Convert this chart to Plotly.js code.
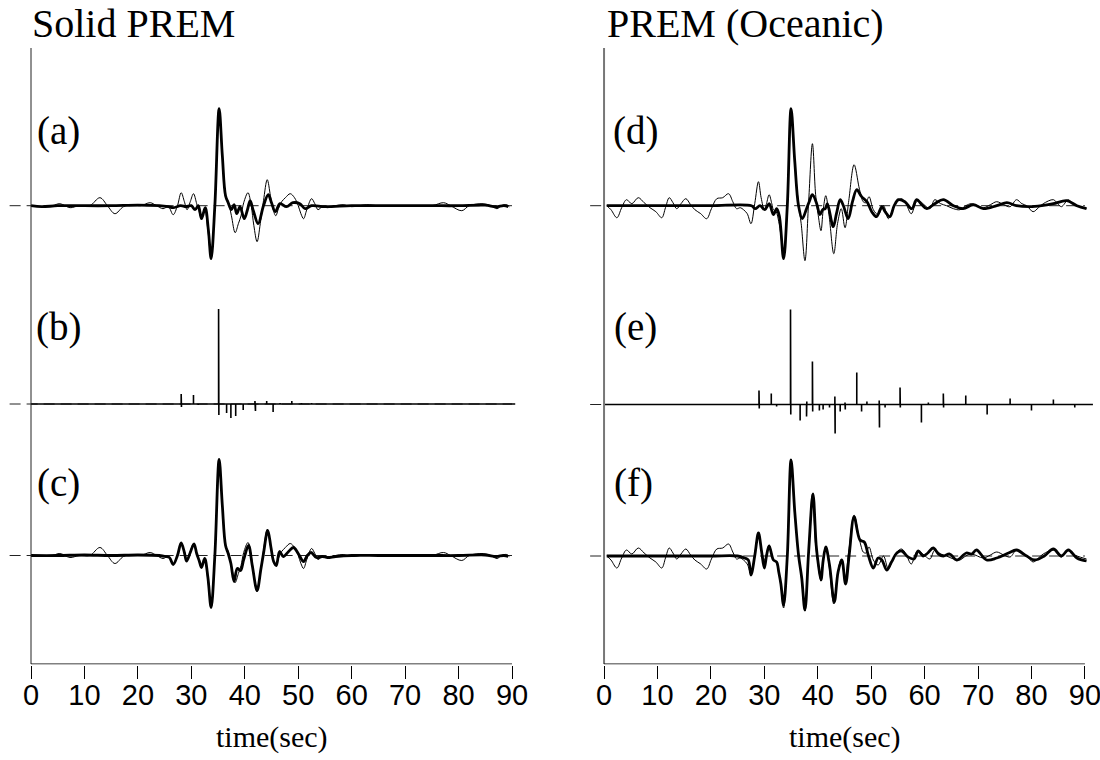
<!DOCTYPE html>
<html>
<head>
<meta charset="utf-8">
<script src="https://cdn.plot.ly/plotly-3.0.1.min.js"></script>
<style>html,body{margin:0;padding:0;background:#fff}#chart{width:1100px;height:760px}</style>
</head>
<body>
<div id="chart"></div>
<script>
// ---------------- DATA (time in sec, amplitude in arbitrary units) ----------------
const tickVals = [0,10,20,30,40,50,60,70,80,90];
const tickText = ["0","10","20","30","40","50","60","70","80","90"];
const panelTitles = ["Solid PREM", "PREM (Oceanic)"];
const panelLabels = ["(a)","(b)","(c)","(d)","(e)","(f)"];
const axisTitle = "time(sec)";

// Observed seismogram, Solid PREM (thin line in a and c)
const obsL_t = [0,2,4,5.4,7.3,9,11,12.9,14.3,15.7,17.3,19.1,20.5,22.3,23.5,24.7,25.7,26.6,27.4,28.1,28.7,29.2,29.8,30.4,31.0,31.4,31.9,32.5,33.1,33.7,34.4,35.2,35.8,36.4,36.9,37.5,38.2,38.8,39.3,39.8,40.6,41.2,41.7,42.3,42.9,43.5,44.2,44.8,45.3,45.8,46.3,46.9,47.6,48.5,49.3,50.0,50.5,51.0,51.6,52.5,53.1,53.7,54.5,55.5,57,58.4,60,62.8,65,70,75,77.2,78.5,80.6,82,84.6,86,87.2,88,89,89.5];
const obsL_a = [0,-1,0,2,-2,0,0,8,0,-8,-1,1,0,3,0,-3,-1,-9,0,13,4,-4,4,12,2,-5,-12,-3,-25,-52,0,96,50,10,4,-10,-27,-18,-10,3,13,0,-20,-36,-18,5,26,10,-4,-10,-3,4,8,12,8,0,-8,-13,-4,7,2,-4,-1,-2,0,1,-1,1,0,0,0,3,0,-5,0,2,0,-3,0,1,-1];
// Synthetic before inversion (thick line in a)
const synA_t = [0,2,5,10,15,20,24,25.7,26.6,28,29,30,30.7,31.3,31.9,32.6,33.2,33.7,34.4,35.2,35.8,36.4,36.9,37.5,38.0,38.5,39.1,39.9,40.5,41.0,41.6,42.5,43.5,44.4,45.0,45.7,46.6,47.8,49.0,50.3,51.3,52.5,55,60,65,70,75,80,85,87,88.5,89.3];
const synA_a = [0,-1,0,0,0,0.5,0,-1,-2,0,-1,0,-4,0,-13,-2,-25,-53,0,97,50,10,3,-4,1,-8,-1,-13,-4,5,-5,-18,0,11,3,-6,2,-1,3,2,-3,0,-1,0,0,0,0,0,0.5,-1,0,-1];
// Spike train, Solid PREM (b)
const spkB_t = [28.1,28.15,30.4,31.3,35.1,35.15,36.6,37.4,38.3,39.7,41.9,42.0,44.1,45.3,46.6,48.8,50.6,52.5];
const spkB_a = [10,-3,9,-1,95,-11,-9,-14,-12,-6,3,-7,3,-8,1,3,1,1];
const spkB_end = 90.6;
// Synthetic after inversion (thick line in c)
const synC_t = [0,5,10,15,20,24,25.2,25.9,26.6,27.4,28.1,28.7,29.1,29.8,30.5,31.0,31.5,31.9,32.5,33.1,33.7,34.4,35.2,35.8,36.4,36.9,37.4,38.0,38.6,39.2,39.8,40.7,41.4,42.3,43.0,43.5,44.3,44.9,45.4,45.9,46.5,47.2,48.2,49.1,50.0,51.0,51.7,52.4,53.4,54.5,55.5,57,60,65,70,75,80,85,87,88.5,89.3];
const synC_a = [0,0,0.5,0,0.5,0,-1,-2,-9,0,12.7,3,-5.7,3,11.7,2,-5.7,-12,-3,-22,-52,0,96,50,10,2,-8,-26,-13,-15,-4,10,-10,-35,-14,2,25,8,-6,-10,4,-1,4,8,2,-6,0,3,-2,-1,-2,-1,0,0,0,0,0,0.5,-1,0,-1];

// Observed seismogram, PREM Oceanic (thin line in d and f)
const obsR_t = [0.5,1.3,2.4,3.3,4.2,5.2,6.4,7.5,8.6,9.7,10.8,11.5,12.2,12.9,13.6,14.4,15.3,16.2,17.0,18.1,19.2,20.1,21.1,22.2,23.3,24.1,24.8,25.5,26.1,26.8,27.5,28.2,28.9,29.4,30.0,30.4,30.9,31.4,31.7,32.2,32.7,33.1,33.6,34.3,35.0,35.7,36.4,36.9,37.6,38.3,39.0,39.6,40.1,40.6,41.0,41.5,42.1,43.0,43.7,44.4,45.1,45.8,46.8,47.7,48.1,48.5,49.0,49.6,50.4,51.3,52.3,53.2,54.0,54.8,55.7,56.5,57.5,58.5,59.2,60.1,61.0,61.9,63.0,64.1,65.4,66.6,67.7,68.8,71.0,72.3,73.5,74.8,76.0,77.2,78.2,79.1,80.3,81.3,82.2,84.1,84.9,85.6,86.9,87.7,88.5,90.3];
const obsR_a = [0,-4,-12,-2,6,2,8,3,-2,-6,-12,-2,8,3,-3,2,7,1,-4,-8,-13,-3,7,8,12,4,-3,-2,-4,-8,-18,2,24,8,-4,2,11,2,-4,-6,-16,-30,-52,0,97,44,1,-18,-55,5,62,11,-10,-25,-5,10,-9,-48,-18,-3,-22,5,41,19,10,4,3,9,-4,-9,0,-13,-4,4,7,2,-8,4,4,0,-3,6,2,0,-3,-4,0,2,-2,1,4,1,-1,6,2,0,-6,-2,2,6,2,-1,6,2,0,-3];
// Synthetic before inversion (thick line in d)
const synD_t = [0.5,10,20,27.6,28.3,29.2,30.1,30.9,31.7,32.3,32.8,33.6,34.3,35.0,35.7,36.4,37.1,37.9,38.4,39.0,39.8,40.4,40.9,41.4,41.8,42.9,43.5,44.2,44.8,45.7,46.5,47.3,48.2,49.2,50.1,51.0,52.0,52.6,53.5,54.3,55.1,56.3,57.6,58.5,59.5,60.4,61.9,63.5,65.4,67.2,69.1,71.0,73.5,75.4,77.2,79.7,81.9,84.1,86.6,88.5,90.3];
const synD_a = [0,0,0,0,-3,0,-4,2,-9,-3,-10,-53,0,97,44,0,-13,-3,4,11,2,-9,-4,-3,2,-21,-8,6,0,-13,4,16,9,4,-6,-11,-1,-6,-11,0,6,4,-3,6,1,-3,2,6,0,-3,1,-3,0,3,0,-1,0,2,5,0,-3];
// Spike train, PREM Oceanic (e)
const spkE_t = [29.0,29.05,31.3,32.3,34.9,34.95,36.7,37.9,37.95,39.0,39.05,40.3,41.0,42.2,43.2,43.25,44.2,45.1,45.15,47.3,48.2,49.2,51.5,51.55,52.6,55.4,55.45,59.4,60.7,63.5,63.55,67.7,71.7,76.0,80.0,84.1,88.1];
const spkE_a = [14,-4,11,-2,95,-10,-16,-12,3,43,-7,-6,-5,-3,8,-29,-7,2,-5,32,-7,3,4,-23,-3,17,-3,-18,2,11,-3,9,-10,6,-6,5,-3];
const spkE_end = 91.5;
// Synthetic after inversion (thick line in f)
const synF_t = [0.5,10,20,25,26.3,27.0,27.5,28.2,28.9,29.5,30.0,30.4,30.9,31.7,32.3,32.7,33.1,33.6,34.3,35.0,35.7,36.4,37.0,37.6,38.3,39.1,39.7,40.1,40.6,41.0,41.5,42.2,43.1,43.8,44.5,45.2,45.9,46.8,47.9,48.7,49.5,50.4,51.3,52.0,52.9,53.8,54.8,55.7,56.9,58.0,58.8,59.7,60.6,61.6,62.6,63.5,64.7,66.0,67.8,68.8,69.7,71.6,73.5,75.7,77.2,79.1,80.6,82.4,84.1,85.6,86.9,88.5,90.3];
const synF_a = [0,0,0,0,-2,-4,-19,0,23,4,-12,0,10,-4,-6,-16,-28,-49,0,96,44,1,-22,-54,5,62,11,-8,-24,-5,9,-9,-46,-16,-4,-28,2,39,16,14,0,-12,-2,-4,-14,-6,3,5,-1,-3,5,0,3,8,2,0,2,-4,3,2,6,-4,-2,3,6,0,-4,0,7,0,6,-2,-5];

// ---------------- LAYOUT CONSTANTS ----------------
const base = {a:458.3, b:260, c:108.5, d:458.3, e:259.5, f:108};
const THIN = 1.0, THICK = 2.8;

function offset(arr, b){ return arr.map(v => v + b); }
function spikes(ts, as, end, b){
  const x=[0], y=[b];
  for(let i=0;i<ts.length;i++){ x.push(ts[i],ts[i],ts[i]); y.push(b, b+as[i], b); }
  x.push(end); y.push(b);
  return {x, y};
}
function line(x, y, xa, ya, w, shape, dash, color){
  return {type:'scatter', mode:'lines', x:x, y:y, xaxis:xa, yaxis:ya, hoverinfo:'skip',
    line:{color:color||'#000', width:w, shape:shape||'linear', smoothing:1, dash:dash||'solid'}};
}

const traces = [];
// dashed zero lines
[['a',-4,'x','y'],['b',-4,'x','y'],['c',-4,'x','y'],['d',-2.6,'x2','y2'],['e',-2.6,'x2','y2'],['f',-2.6,'x2','y2']].forEach(p=>{
  traces.push(line([p[1],90],[base[p[0]],base[p[0]]],p[2],p[3],1,'linear','11px,6px','#222'));
});
// left panels
traces.push(line(obsL_t, offset(obsL_a, base.a),'x','y',THIN,'spline'));
traces.push(line(synA_t, offset(synA_a, base.a),'x','y',THICK,'spline'));
let sb = spikes(spkB_t, spkB_a, spkB_end, base.b);
traces.push(line(sb.x, sb.y,'x','y',1.6,'linear'));
traces.push(line(obsL_t, offset(obsL_a, base.c),'x','y',THIN,'spline'));
traces.push(line(synC_t, offset(synC_a, base.c),'x','y',THICK,'spline'));
// right panels
traces.push(line(obsR_t, offset(obsR_a, base.d),'x2','y2',THIN,'spline'));
traces.push(line(synD_t, offset(synD_a, base.d),'x2','y2',THICK,'spline'));
let se = spikes(spkE_t, spkE_a, spkE_end, base.e);
traces.push(line(se.x, se.y,'x2','y2',1.6,'linear'));
traces.push(line(obsR_t, offset(obsR_a, base.f),'x2','y2',THIN,'spline'));
traces.push(line(synF_t, offset(synF_a, base.f),'x2','y2',THICK,'spline'));

const W=1100, H=760;
const xCommon = {range:[-4.5,92], tickmode:'array', tickvals:tickVals, ticktext:tickText,
  ticks:'outside', ticklen:13, tickwidth:1, tickcolor:'#000', showline:false, showgrid:false, zeroline:false,
  ticklabeloverflow:'allow', ticklabelstandoff:-8,
  tickfont:{family:'Liberation Sans, Arial, sans-serif', size:29, color:'#000'}, fixedrange:true};
const yCommon = {range:[-0.5,620], domain:[(H-664.5)/H,(H-44)/H], visible:false, showgrid:false, zeroline:false, fixedrange:true};

const layout = {
  width:W, height:H, margin:{l:0,r:0,t:0,b:0}, paper_bgcolor:'#fff', plot_bgcolor:'rgba(0,0,0,0)',
  showlegend:false,
  xaxis: Object.assign({}, xCommon, {domain:[6.95/W, 522.7/W], anchor:'y'}),
  yaxis: Object.assign({}, yCommon, {anchor:'x'}),
  xaxis2: Object.assign({}, xCommon, {domain:[580/W, 1095.6/W], anchor:'y2'}),
  yaxis2: Object.assign({}, yCommon, {anchor:'x2'}),
  shapes: [
    {type:'line', xref:'x', yref:'y', x0:0, x1:0, y0:0, y1:616, line:{color:'#222', width:1}},
    {type:'line', xref:'x', yref:'y', x0:0, x1:90, y0:0, y1:0, line:{color:'#000', width:1}},
    {type:'line', xref:'x2', yref:'y2', x0:0, x1:0, y0:0, y1:616, line:{color:'#777', width:2}},
    {type:'line', xref:'x2', yref:'y2', x0:0, x1:90, y0:0, y1:0, line:{color:'#000', width:1}}
  ],
  annotations: []
};
const serif = 'Liberation Serif, Times New Roman, serif';
function ann(text, xpx, ypx, size, xanchor){
  layout.annotations.push({text:text, xref:'paper', yref:'paper', x:xpx/W, y:(H-ypx)/H,
    xanchor:xanchor||'center', yanchor:'middle', showarrow:false, font:{family:serif, size:size, color:'#000'}});
}
ann(panelTitles[0], 30, 24, 40, 'left');
ann(panelTitles[1], 605, 24, 40, 'left');
const lp = [[58,131],[58,327],[58,483],[635,131],[635,327],[633,483]];
panelLabels.forEach((t,i)=>ann(t, lp[i][0], lp[i][1], 39));
ann(axisTitle, 271.5, 737, 30);
ann(axisTitle, 844.5, 737, 30);

Plotly.newPlot('chart', traces, layout, {staticPlot:true, displayModeBar:false});
</script>
</body>
</html>
